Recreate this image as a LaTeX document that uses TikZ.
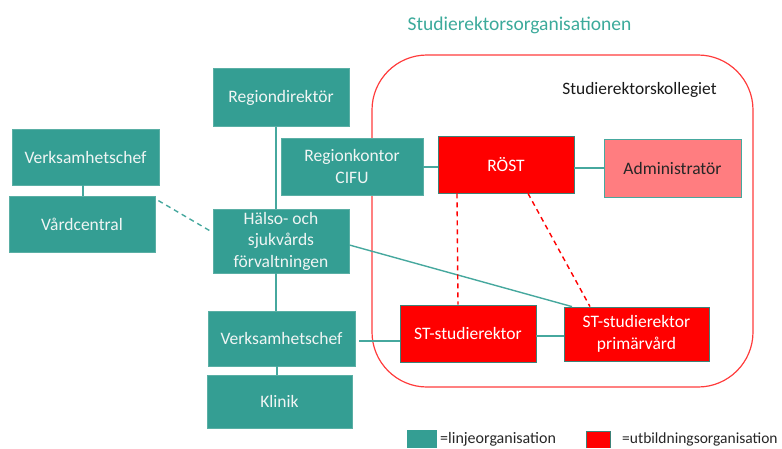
\documentclass[tikz,border=0pt]{standalone}
\usepackage{fontspec}
\setmainfont{Carlito}
\definecolor{teal1}{RGB}{52,158,147}
\definecolor{tealedge}{RGB}{90,175,165}
\definecolor{tealline}{RGB}{70,168,158}
\definecolor{titleteal}{RGB}{60,170,155}
\definecolor{redfill}{RGB}{255,0,0}
\definecolor{redbox}{RGB}{255,60,60}
\definecolor{adminfill}{RGB}{255,125,128}
\definecolor{rededge}{RGB}{60,130,120}
\definecolor{txtlight}{RGB}{240,245,244}
\begin{document}
\begin{tikzpicture}[x=1pt,y=-1pt,
  lbox/.style={draw=tealedge,fill=teal1,line width=0.8pt,inner sep=0pt,align=center,text=txtlight,
    font=\fontsize{17.5}{21.5}\selectfont},
  rbox/.style={draw=rededge,fill=redfill,line width=0.8pt,inner sep=0pt,align=center,text=white,
    font=\fontsize{17.5}{21.5}\selectfont},
  abox/.style={draw=tealline,fill=adminfill,line width=1pt,inner sep=0pt,align=center,text=black!85,
    font=\fontsize{17.5}{21.5}\selectfont},
  conn/.style={draw=tealline,line width=1.4pt},
  tdash/.style={draw=tealline,line width=1.4pt,dash pattern=on 5pt off 4pt},
  rdash/.style={draw=red,line width=1.4pt,dash pattern=on 5pt off 4pt}]
\useasboundingbox (0,0) rectangle (782,448);
\node[text=titleteal,font=\fontsize{19.5}{24}\selectfont] (title) at (519.5,25) {Studierektorsorganisationen};
\draw[draw=redbox,line width=1.2pt,rounded corners=55pt] (372,55) rectangle (753,387);
\node[font=\fontsize{17.4}{20}\selectfont,text=black!90] (koll) at (639.5,90) {Studierektorskollegiet};
% line organisation boxes
\node[lbox,minimum width=136pt,minimum height=58pt] (regdir) at (281,97.5) {Regiondirektör};
\node[lbox,minimum width=147pt,minimum height=56pt] (vc1) at (85.5,157) {Verksamhetschef};
\node[lbox,minimum width=146pt,minimum height=56pt] (vard) at (82,224) {Vårdcentral};
\node[lbox,minimum width=142pt,minimum height=57pt] (rk) at (352,166.5) {Regionkontor\\CIFU};
\node[lbox,minimum width=136pt,minimum height=64pt] (hs) at (281,241) {Hälso- och\\sjukvårds\\förvaltningen};
\node[lbox,minimum width=147pt,minimum height=55pt] (vc2) at (281.5,338.5) {Verksamhetschef};
\node[lbox,minimum width=145pt,minimum height=53pt] (klinik) at (279.5,401.5) {Klinik};
% education organisation
\node[rbox,minimum width=136pt,minimum height=57pt] (rost) at (506,164.5) {RÖST};
\node[abox,minimum width=137pt,minimum height=58pt] (admin) at (672.5,168) {Administratör};
\node[rbox,minimum width=136pt,minimum height=57pt] (st) at (468,333.5) {ST-studierektor};
\node[rbox,minimum width=145pt,minimum height=54pt] (stp) at (636.5,334) {ST-studierektor\\primärvård};
% connectors
\coordinate (lc) at (0,341);
\coordinate (rl) at (0,167);
\coordinate (sl) at (0,336);
\draw[conn] (regdir.south -| 276,0) -- (hs.north -| 276,0);
\draw[conn] (hs.south -| 276,0) -- (vc2.north -| 276,0);
\draw[conn] (vc2.south -| 277,0) -- (klinik.north -| 277,0);
\draw[conn] (vc1.south -| 83,0) -- (vard.north -| 83,0);
\draw[tdash] ([shift={(3,5)}]vard.north east) -- ([shift={(-3,22)}]hs.north west);
\draw[conn] (rk.east |- rl) -- (rost.west |- rl);
\draw[conn] (rost.east |- 0,168) -- (admin.west |- 0,168);
\draw[conn] ([xshift=4pt]vc2.east |- lc) -- (st.west |- lc);
\draw[conn] (st.east |- sl) -- (stp.west |- sl);
\draw[conn] (hs.east |- 0,245) -- ([xshift=-64.5pt]stp.north);
\draw[rdash] (rost.south -| 457,0) -- (st.north -| 458,0);
\draw[rdash] (rost.south -| 528,0) -- ([xshift=-46.5pt]stp.north);
% legend
\fill[teal1] (407,430) rectangle (437,448);
\node[anchor=west,inner sep=0pt,font=\fontsize{16}{18}\selectfont,text=black!85] (leg1) at (440,439) {=linjeorganisation};
\fill[redfill] (586,431) rectangle (610,448);
\draw[rededge,line width=0.6pt] (586,448) -- (586,431) -- (610,431) -- (610,448);
\node[anchor=west,inner sep=0pt,font=\fontsize{15.5}{18}\selectfont,text=black!85] (leg2) at (622,439) {=utbildningsorganisation};
\end{tikzpicture}
\end{document}
